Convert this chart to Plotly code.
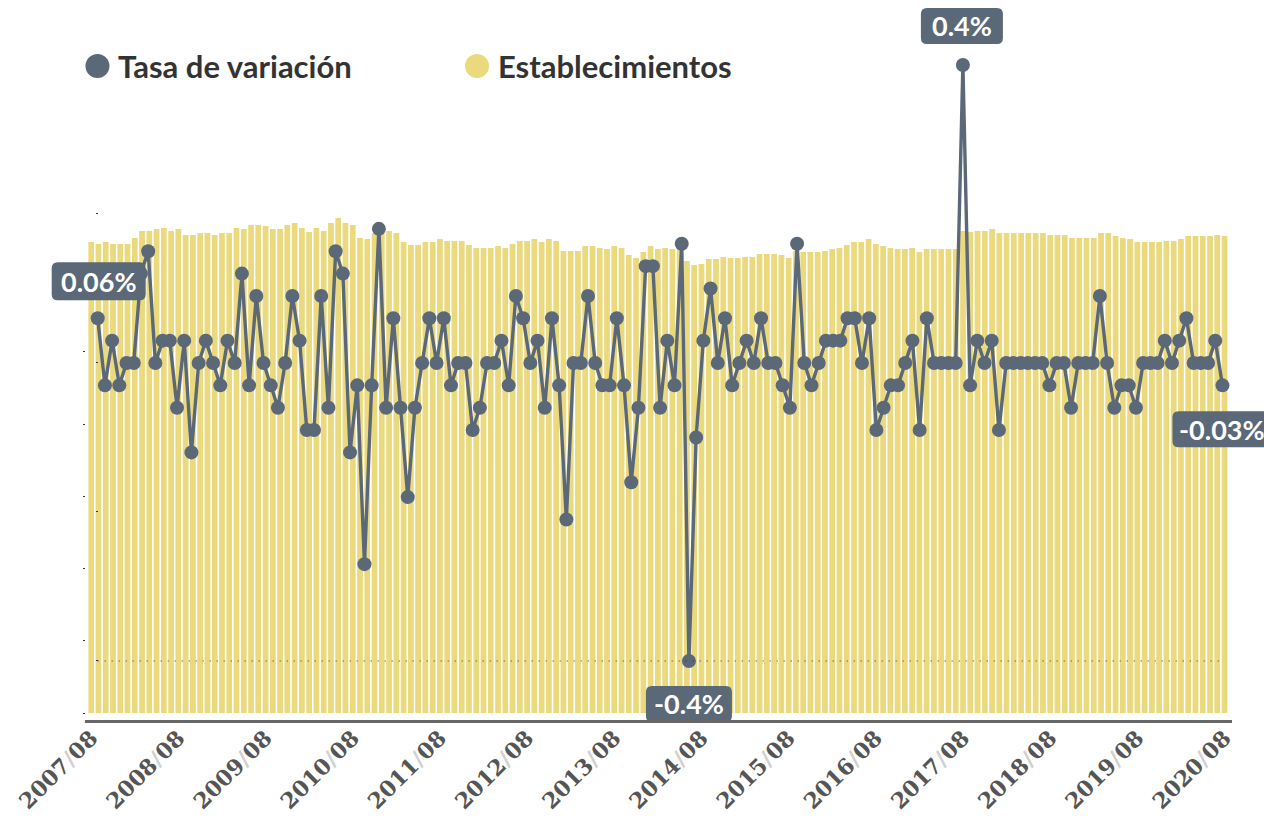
import plotly.graph_objects as go

# ---------------- data ----------------
months = []
for k in range(157):
    y = 2007 + (7 + k) // 12
    m = (7 + k) % 12 + 1
    months.append(f"{y}/{m:02d}")

establecimientos = [
    6523, 6496, 6523, 6496, 6496, 6496, 6579, 6676, 6676, 6703, 6717, 6676, 6703, 6620, 6620, 6648,
    6648, 6620, 6648, 6648, 6717, 6703, 6759, 6759, 6745, 6703, 6703, 6759, 6787, 6717, 6662, 6717,
    6676, 6787, 6856, 6787, 6759, 6579, 6565, 6648, 6662,
    6676, 6648, 6523, 6482, 6482, 6523, 6523, 6565, 6537, 6537, 6537, 6482, 6440, 6440, 6440, 6468,
    6440, 6496, 6537, 6537, 6565,
    6523, 6565, 6537, 6399, 6399, 6399, 6468, 6468, 6440, 6426, 6468, 6440, 6343, 6302,
    6385, 6468, 6426, 6440, 6426, 6454,
    6260, 6205, 6219, 6288, 6288, 6316, 6302, 6302, 6316, 6316, 6357, 6357, 6357, 6343, 6302,
    6399, 6385, 6385, 6385, 6399, 6426, 6440, 6482, 6523, 6523, 6565, 6496, 6468, 6440, 6426, 6426,
    6440, 6385, 6426, 6426, 6426, 6426, 6426,
    6676, 6662, 6676, 6676, 6703,
    6648, 6648, 6648, 6648, 6648, 6648, 6648, 6620, 6620, 6620, 6579, 6579, 6579, 6579, 6648, 6648,
    6606, 6579, 6565, 6523, 6523, 6523, 6523, 6537, 6537, 6565, 6606, 6606, 6606, 6606, 6620, 6606,
]

tasa = [
    0.06, -0.03, 0.03, -0.03, 0.0, 0.0, 0.12, 0.15, 0.0, 0.03, 0.03, -0.06, 0.03, -0.12, 0.0, 0.03,
    0.0, -0.03, 0.03, 0.0, 0.12, -0.03, 0.09, 0.0, -0.03, -0.06, 0.0, 0.09, 0.03, -0.09, -0.09, 0.09,
    -0.06, 0.15, 0.12, -0.12, -0.03, -0.27, -0.03, 0.18, -0.06, 0.06, -0.06, -0.18, -0.06, 0.0, 0.06,
    0.0, 0.06, -0.03, 0.0, 0.0, -0.09, -0.06, 0.0, 0.0, 0.03, -0.03, 0.09, 0.06, 0.0, 0.03, -0.06,
    0.06, -0.03, -0.21, 0.0, 0.0, 0.09, 0.0, -0.03, -0.03, 0.06, -0.03, -0.16, -0.06, 0.13, 0.13,
    -0.06, 0.03, -0.03, 0.16, -0.4, -0.10, 0.03, 0.10, 0.0, 0.06, -0.03, 0.0, 0.03, 0.0, 0.06, 0.0,
    0.0, -0.03, -0.06, 0.16, 0.0, -0.03, 0.0, 0.03, 0.03, 0.03, 0.06, 0.06, 0.0, 0.06, -0.09, -0.06,
    -0.03, -0.03, 0.0, 0.03, -0.09, 0.06, 0.0, 0.0, 0.0, 0.0, 0.4, -0.03, 0.03, 0.0, 0.03, -0.09,
    0.0, 0.0, 0.0, 0.0, 0.0, 0.0, -0.03, 0.0, 0.0, -0.06, 0.0, 0.0, 0.0, 0.09, 0.0, -0.06, -0.03,
    -0.03, -0.06, 0.0, 0.0, 0.0, 0.03, 0.0, 0.03, 0.06, 0.0, 0.0, 0.0, 0.03, -0.03,
]

bar_ticks = [0, 1000, 2000, 3000, 4000, 5000, 6000]
rate_ticks = [-0.4, -0.2, 0.0, 0.2]

tick_idx = list(range(0, 157, 12))
tick_vals = [months[i] for i in tick_idx]
tick_text = [months[i].replace("/", "<span style='color:#d0d0d0'>/</span>") for i in tick_idx]

LINE_C = "#5A6877"
BAR_C = "#EBD97E"

fig = go.Figure()
fig.add_trace(go.Bar(x=months, y=establecimientos, marker=dict(color=BAR_C, line=dict(width=0)),
                     name="Establecimientos", xaxis="x", yaxis="y", showlegend=False,
                     hoverinfo="skip"))
fig.add_trace(go.Scatter(x=months, y=tasa, mode="lines+markers", name="Tasa de variación",
                         line=dict(color=LINE_C, width=3.4),
                         marker=dict(color=LINE_C, size=14),
                         xaxis="x2", yaxis="y2", showlegend=False, hoverinfo="skip"))

# ---------------- label boxes ----------------
def rr_path(cx, cy, a, b, r=6):
    return (f"M {cx-a+r},{cy-b} L {cx+a-r},{cy-b} Q {cx+a},{cy-b} {cx+a},{cy-b+r} "
            f"L {cx+a},{cy+b-r} Q {cx+a},{cy+b} {cx+a-r},{cy+b} L {cx-a+r},{cy+b} "
            f"Q {cx-a},{cy+b} {cx-a},{cy+b-r} L {cx-a},{cy-b+r} Q {cx-a},{cy-b} {cx-a+r},{cy-b} Z")

i_max = max(range(len(tasa)), key=lambda i: tasa[i])
i_min = min(range(len(tasa)), key=lambda i: tasa[i])
labels = [
    (0, "0.06%", 1, 37, 47, 19),
    (i_max, "0.4%", -1, 39, 41, 18),
    (i_min, "-0.4%", 0, -43, 43, 18),
    (len(tasa) - 1, "-0.03%", 0, -44, 50, 18),
]
shapes = []
annotations = []
for idx, txt, dx, dy, a, b in labels:
    shapes.append(dict(type="path", xref="x2", yref="y2", xsizemode="pixel", ysizemode="pixel",
                       xanchor=months[idx], yanchor=tasa[idx], path=rr_path(dx, dy, a, b),
                       fillcolor=LINE_C, line=dict(width=0), layer="above"))
    annotations.append(dict(x=months[idx], y=tasa[idx], xref="x2", yref="y2", text=txt,
                            showarrow=False, xshift=dx, yshift=dy,
                            font=dict(family="Lato", size=27, color="white", weight="bold")))

# dotted reference line at -0.4
shapes.append(dict(type="line", xref="x2", yref="y2", x0=months[0], x1=months[-1], y0=-0.4, y1=-0.4,
                   line=dict(color="#333333", width=1, dash="1px,6px"), layer="above"))
# x axis base line
shapes.append(dict(type="line", xref="paper", yref="paper", x0=0.0672, x1=0.9747, y0=-0.002, y1=-0.002,
                   line=dict(color="#666666", width=3)))

# custom legend
leg = [(0.0771, 0.0918, LINE_C, "Tasa de variación"), (0.3774, 0.3924, BAR_C, "Establecimientos")]
for cxp, txp, col, txt in leg:
    shapes.append(dict(type="circle", xref="paper", yref="paper", xsizemode="pixel", ysizemode="pixel",
                       xanchor=cxp, yanchor=0.9083, x0=-12, x1=12, y0=-12, y1=12,
                       fillcolor=col, line=dict(width=0)))
    annotations.append(dict(x=txp, y=0.9083, xref="paper", yref="paper", text=txt, showarrow=False,
                            xanchor="left", yanchor="middle",
                            font=dict(family="Lato", size=31, color="#333333", weight="bold")))

fig.update_layout(
    template="none",
    width=1264, height=820,
    margin=dict(l=0, r=0, t=0, b=100, pad=0),
    paper_bgcolor="white", plot_bgcolor="white",
    bargap=0.215,
    showlegend=False,
    xaxis=dict(type="category", range=[-12.553, 161.43], tickmode="array", tickvals=tick_vals,
               ticktext=tick_text, tickangle=-45, ticks="", showgrid=False, zeroline=False,
               showline=False, automargin=False,
               tickfont=dict(family="DejaVu Serif", size=22, color="#555555", weight="bold")),
    xaxis2=dict(type="category", overlaying="x", range=[-13.551, 161.76], showgrid=False,
                zeroline=False, showline=False, showticklabels=False, ticks="", automargin=False),
    yaxis=dict(range=[-97, 9875], tickmode="array", tickvals=bar_ticks, ticks="outside", ticklen=2,
               tickcolor="#333333", anchor="free", position=0.0672,
               showticklabels=False, showgrid=False, zeroline=False, showline=False, automargin=False),
    yaxis2=dict(overlaying="y", range=[-0.4792, 0.4872], anchor="free", position=0.0775,
                tickmode="array", tickvals=rate_ticks, ticks="outside", ticklen=2, tickcolor="#333333",
                showgrid=False, zeroline=False, showline=False, showticklabels=False, automargin=False),
    shapes=shapes,
    annotations=annotations,
)

fig.write_html("out.html", config={"displayModeBar": False},
               post_script="document.body.style.margin='0';document.body.style.padding='0';")
